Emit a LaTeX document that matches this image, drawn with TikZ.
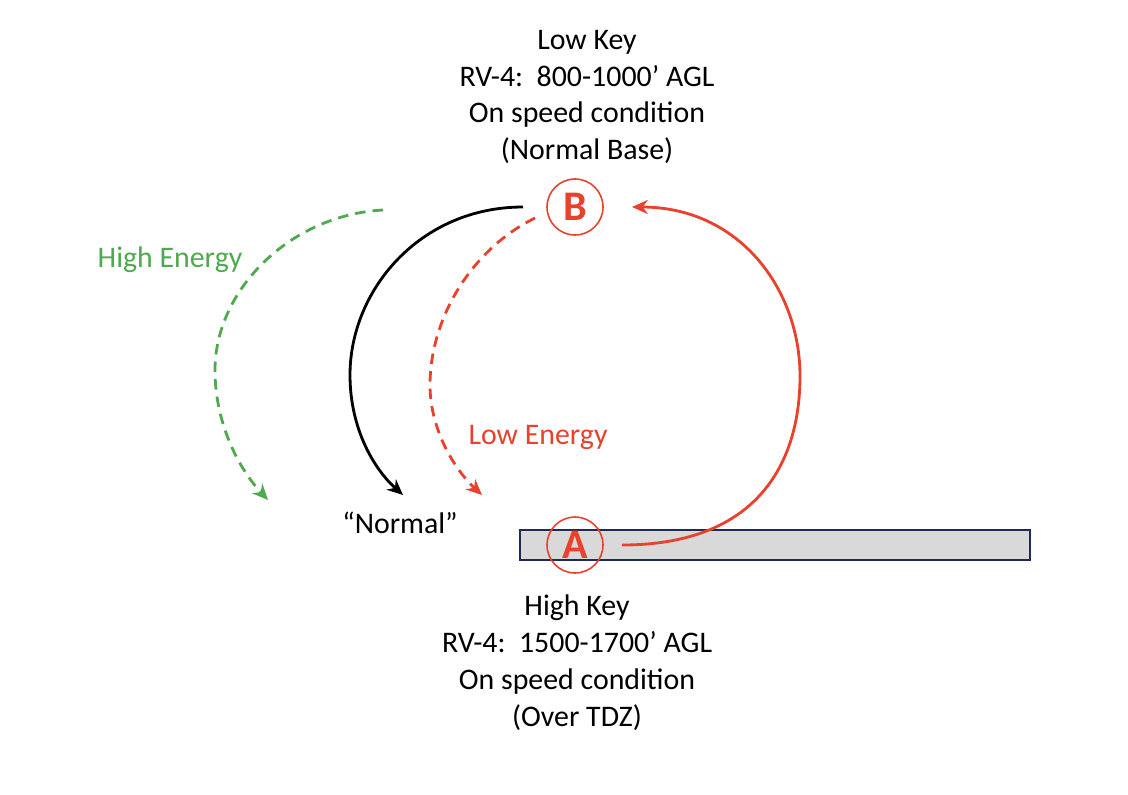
\documentclass[tikz,border=0pt]{standalone}
\usepackage{fontspec}
\setmainfont{Carlito}
\usetikzlibrary{arrows.meta}
\definecolor{myred}{HTML}{E8412C}
\definecolor{mygreen}{HTML}{4FA94F}
\definecolor{navy}{HTML}{1F2A55}
\begin{document}
\begin{tikzpicture}[x=0.02cm,y=-0.02cm,
  lbl/.style={font=\fontsize{17}{20}\selectfont, align=center},
  ptmark/.style={circle, draw=myred, line width=0.9pt, minimum size=56*0.02cm, inner sep=0pt, text=myred, font=\fontsize{24}{26}\selectfont\bfseries},
  arr/.style={line width=1.6pt, -{Stealth[length=9pt,width=8pt]}},
  dsh/.style={dash pattern=on 6pt off 4pt}]
\useasboundingbox (0,0) rectangle (1128,794);
\node[lbl] (top) at (587,97) {Low Key\\[1pt]RV-4:\ \ 800-1000’ AGL\\[1pt]On speed condition\\[1pt](Normal Base)};
\node[lbl] (bot) at (577,663) {High Key\\[1pt]RV-4:\ \ 1500-1700’ AGL\\[1pt]On speed condition\\[1pt](Over TDZ)};
\node[draw=navy, fill=gray!30, line width=0.8pt, minimum width=510*0.02cm, minimum height=30*0.02cm, inner sep=0pt] (rw) at (775,545) {};
\node[ptmark] (A) at (575,545) {A};
\node[ptmark] (B) at (575,207) {B};
\node[lbl, text=mygreen] (he) at (170,260) {High Energy};
\node[lbl, text=myred] (le) at (538,437) {Low Energy};
\node[lbl] (no) at (400,523) {“Normal”};
\coordinate (r1) at (622,545); \coordinate (r2) at (632,207);
\coordinate (k1) at (523,207); \coordinate (k2) at (403,495);
\coordinate (d1) at (535,218); \coordinate (d2) at (482,495);
\coordinate (g1) at (383,210); \coordinate (g2) at (268,500);
\draw[arr, myred] (r1) .. controls (760,545) and (800,460) .. (800,376) .. controls (800,290) and (740,207) .. (r2);
\draw[arr, black] (k1) .. controls (420,207) and (350,290) .. (350,375) .. controls (350,430) and (375,470) .. (k2);
\draw[arr, myred, dsh] (d1) .. controls (470,250) and (430,320) .. (430,385) .. controls (430,430) and (455,470) .. (d2);
\draw[arr, mygreen, dsh] (g1) .. controls (290,215) and (215,290) .. (215,370) .. controls (215,425) and (240,470) .. (g2);
\end{tikzpicture}
\end{document}
